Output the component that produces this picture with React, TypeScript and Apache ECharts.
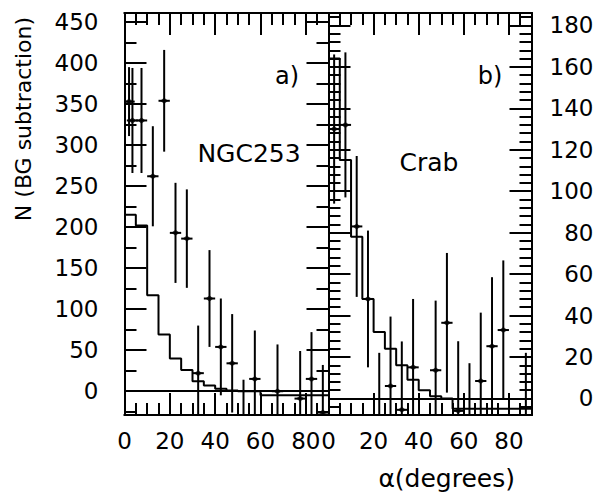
import React, { useEffect, useRef } from "react";
import * as echarts from "echarts";

// ---- data ----
const binStarts = [0, 5, 10, 15, 20, 25, 30, 35, 40, 45, 50, 55, 60, 65, 70, 75, 80, 85];
const ngcModel = [215, 202, 117, 69, 40, 26, 12, 7, 3, 1, 0, 0, -5, -5, -5, -5, -5, -5];
const crabModel = [164, 115, 78, 48, 32, 24, 16, 9, 4, 1, 0, -5, -5, -5, -5, -5, -5, -5];

const ngcAlpha = [2, 3.5, 7.5, 12.5, 17.5, 22.5, 27.5, 32.5, 37.5, 42.5, 47.5, 52.5, 57.5, 67.5, 77.5, 82.5, 87.5];
const ngcCounts = [353, 330, 330, 262, 354, 193, 186, 22, 113, 54, 34, -40, 15, 0, -9, 15, -26];
const ngcErrors = [42, 64, 64, 61, 62, 61, 60, 58, 59, 59, 60, 54, 59, 57, 58, 57, 58];

const crabAlpha = [2.5, 7.5, 12.5, 17.5, 22.5, 27.5, 32.5, 37.5, 47.5, 52.5, 57.5, 62.5, 67.5, 72.5, 77.5, 87.5];
const crabCounts = [130, 132, 83, 48, -11, 6, -5.5, 15, 13.6, 36.5, -6, -16, 8.4, 25.2, 33, -11];
const crabErrors = [36, 35, 34, 33, 33, 33.5, 33, 33, 33.6, 33.7, 33.6, 33, 33, 33.3, 33.6, 33];

const xMajorTicks = [0, 20, 40, 60, 80];
const xMinorTicks = [5, 10, 15, 25, 30, 35, 45, 50, 55, 65, 70, 75, 85];
const ngcMajorTicks = [0, 50, 100, 150, 200, 250, 300, 350, 400, 450];
const ngcMinorTicks = [-25, 25, 75, 125, 175, 225, 275, 325, 375, 425];
const crabMajorTicks = [0, 20, 40, 60, 80, 100, 120, 140, 160, 180];
const crabMinorTicks = [-4, 4, 8, 12, 16, 24, 28, 32, 36, 44, 48, 52, 56, 64, 68, 72, 76, 84, 88, 92, 96,
  104, 108, 112, 116, 124, 128, 132, 136, 144, 148, 152, 156, 164, 168, 172, 176, 184];

const FONT = "DejaVu Sans";
const BLACK = "#000";

function histData(model: number[]) {
  const d = binStarts.map((s, i) => [s, model[i]]);
  d.push([90, model[model.length - 1]]);
  return d;
}

function xAx(grid: number, pos: string, ticks: number[], len: number, labels?: number[]) {
  return {
    type: "value", gridIndex: grid, position: pos, min: 0, max: 90,
    axisLine: { show: true, onZero: false, lineStyle: { color: BLACK, width: 2 } },
    axisTick: { show: true, inside: true, length: len, customValues: ticks, lineStyle: { color: BLACK, width: 2 } },
    axisLabel: labels
      ? { show: true, customValues: labels, margin: 14, color: BLACK, fontSize: 23, fontFamily: FONT }
      : { show: false },
    splitLine: { show: false },
  };
}

function yAx(grid: number, pos: string, min: number, max: number, ticks: number[], len: number, labels?: number[], align?: string, margin?: number) {
  return {
    type: "value", gridIndex: grid, position: pos, min, max,
    axisLine: { show: true, onZero: false, lineStyle: { color: BLACK, width: 2 } },
    axisTick: { show: true, inside: true, length: len, customValues: ticks, lineStyle: { color: BLACK, width: 2 } },
    axisLabel: labels
      ? { show: true, customValues: labels, margin: margin, align: align, color: BLACK, fontSize: 23, fontFamily: FONT }
      : { show: false },
    splitLine: { show: false },
  };
}

function errorSeries(xi: number, yi: number, xs: number[], ys: number[], es: number[]) {
  return {
    type: "custom", xAxisIndex: xi, yAxisIndex: yi,
    data: xs.map((x, i) => [x, ys[i], es[i]]),
    encode: { x: 0, y: 1 },
    renderItem: (params: any, api: any) => {
      const x = api.value(0), y = api.value(1), e = api.value(2);
      const cs = params.coordSys;
      const clampY = (v: number) => Math.max(cs.y, Math.min(cs.y + cs.height, v));
      const top = api.coord([x, y + e]);
      const bot = api.coord([x, y - e]);
      const mid = api.coord([x, y]);
      const l = api.coord([x - 2.5, y]);
      const r = api.coord([x + 2.5, y]);
      const children: any[] = [
        { type: "line", shape: { x1: top[0], y1: clampY(top[1]), x2: bot[0], y2: clampY(bot[1]) }, style: { stroke: BLACK, lineWidth: 2 } },
      ];
      if (mid[1] >= cs.y && mid[1] <= cs.y + cs.height) {
        children.push({ type: "line", shape: { x1: Math.max(cs.x, l[0]), y1: mid[1], x2: Math.min(cs.x + cs.width, r[0]), y2: mid[1] }, style: { stroke: BLACK, lineWidth: 2 } });
      }
      return { type: "group", children };
    },
  };
}

function scatterSeries(xi: number, yi: number, xs: number[], ys: number[]) {
  return {
    type: "scatter", xAxisIndex: xi, yAxisIndex: yi, clip: true,
    symbol: "diamond", symbolSize: [8, 6],
    itemStyle: { color: BLACK },
    data: xs.map((x, i) => [x, ys[i]]),
  };
}

function histSeries(xi: number, yi: number, model: number[]) {
  return {
    type: "line", xAxisIndex: xi, yAxisIndex: yi, step: "end", symbol: "none", clip: true,
    lineStyle: { color: BLACK, width: 2 },
    data: histData(model),
    markLine: {
      silent: true, symbol: "none", label: { show: false },
      lineStyle: { color: BLACK, type: "solid", width: 2 },
      data: [{ yAxis: 0 }],
    },
  };
}

function txt(x: number, y: number, text: string, size: number, align = "center", rotation = 0) {
  return {
    type: "text", x, y, rotation,
    style: {
      text, fill: BLACK, font: `${size}px "${FONT}"`,
      align, verticalAlign: "middle", textAlign: align, textVerticalAlign: "middle",
    },
  };
}

export default function App() {
  const ref = useRef<HTMLDivElement>(null);
  useEffect(() => {
    if (!ref.current) return;
    const chart = echarts.init(ref.current, undefined, { renderer: "svg" });
    const grids = [
      { left: 124.5, top: 13, width: 204, height: 402 },
      { left: 328.5, top: 13, width: 203, height: 402 },
    ];
    const option: any = {
      animation: false,
      backgroundColor: "#fff",
      grid: grids,
      xAxis: [
        xAx(0, "bottom", xMajorTicks, 22, xMajorTicks),
        xAx(0, "bottom", xMinorTicks, 12),
        xAx(0, "top", xMajorTicks, 22),
        xAx(0, "top", xMinorTicks, 12),
        xAx(1, "bottom", xMajorTicks, 22, xMajorTicks),
        xAx(1, "bottom", xMinorTicks, 12),
        xAx(1, "top", xMajorTicks, 22),
        xAx(1, "top", xMinorTicks, 12),
      ],
      yAxis: [
        yAx(0, "left", -29, 461, ngcMajorTicks, 22, ngcMajorTicks, "right", 26),
        yAx(0, "left", -29, 461, ngcMinorTicks, 12),
        yAx(0, "right", -29, 461, ngcMajorTicks, 22),
        yAx(0, "right", -29, 461, ngcMinorTicks, 12),
        yAx(1, "left", -8, 186, crabMajorTicks, 22),
        yAx(1, "left", -8, 186, crabMinorTicks, 12),
        yAx(1, "right", -8, 186, crabMajorTicks, 22, crabMajorTicks, "right", 62),
        yAx(1, "right", -8, 186, crabMinorTicks, 12),
      ],
      series: [
        histSeries(0, 0, ngcModel),
        errorSeries(0, 0, ngcAlpha, ngcCounts, ngcErrors),
        scatterSeries(0, 0, ngcAlpha, ngcCounts),
        histSeries(4, 4, crabModel),
        errorSeries(4, 4, crabAlpha, crabCounts, crabErrors),
        scatterSeries(4, 4, crabAlpha, crabCounts),
      ],
      graphic: [
        txt(249, 153, "NGC253", 25),
        txt(287, 76, "a)", 24),
        txt(490, 76, "b)", 24),
        txt(429, 162, "Crab", 25),
        txt(515, 478, "α(degrees)", 25, "right"),
        txt(23, 17, "N (BG subtraction)", 22, "right", Math.PI / 2),
      ],
    };
    chart.setOption(option);
    return () => chart.dispose();
  }, []);
  return <div ref={ref} style={{ position: "absolute", left: 0, top: 0, width: 599, height: 495 }} />;
}
